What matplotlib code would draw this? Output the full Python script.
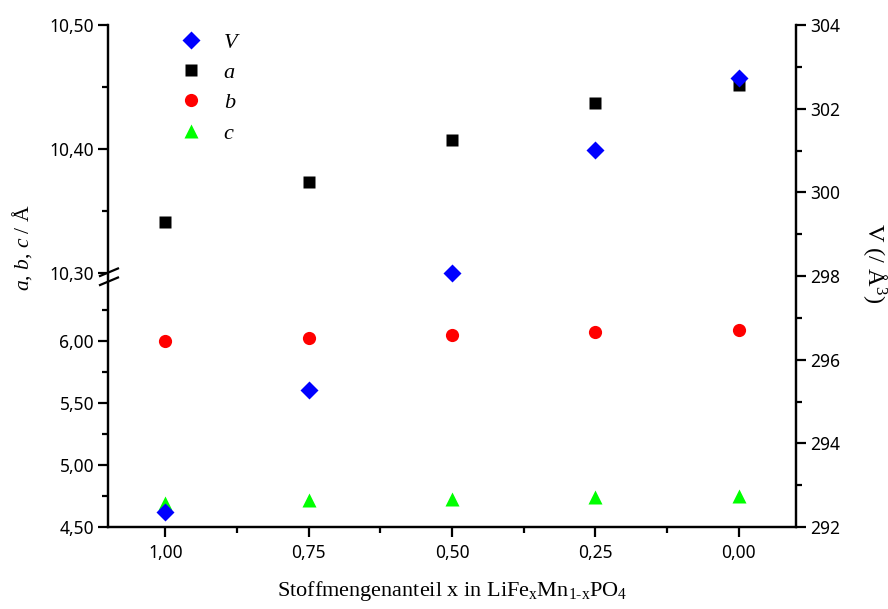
import numpy as np
import matplotlib
matplotlib.use("Agg")
import matplotlib.pyplot as plt
from matplotlib.ticker import FixedLocator, FuncFormatter
from matplotlib.lines import Line2D

plt.rcParams['mathtext.fontset'] = 'custom'
plt.rcParams['mathtext.rm'] = 'Liberation Serif'
plt.rcParams['mathtext.it'] = 'Liberation Serif:italic'

# data
x = [1.00, 0.75, 0.50, 0.25, 0.00]
V = [292.36, 295.27, 298.07, 301.01, 302.73]
a = [10.341, 10.373, 10.407, 10.437, 10.452]
b = [6.002, 6.024, 6.048, 6.073, 6.089]
c = [4.694, 4.718, 4.726, 4.742, 4.750]

left_major = [4.5, 5.0, 5.5, 6.0, 10.3, 10.4, 10.5]
left_minor = [4.75, 5.25, 5.75, 6.25, 10.35, 10.45]


# broken axis: 4.5-6.5 and 10.3-10.5 with a tiny gap in between
def fwd(y):
    y = np.asarray(y, dtype=float)
    return np.where(y <= 6.5, (y - 4.5) * 124,
                    np.where(y >= 10.3, 254 + (y - 10.3) * 1240,
                             248 + (y - 6.5) * 6 / 3.8))


def inv(p):
    p = np.asarray(p, dtype=float)
    return np.where(p <= 248, 4.5 + p / 124,
                    np.where(p >= 254, 10.3 + (p - 254) / 1240,
                             6.5 + (p - 248) * 3.8 / 6))


comma = FuncFormatter(lambda v, pos: f"{v:.2f}".replace('.', ','))

fig = plt.figure(figsize=(8.88, 6.09), dpi=100)
ax = fig.add_axes([108 / 888, 1 - 527 / 609, 688 / 888, 502 / 609])
ax.set_yscale('function', functions=(fwd, inv))

ax2 = ax.twinx()

ax2.plot(x, V, 'D', color='#0000ff', ms=9.5, mec='none', zorder=3)
ax.plot(x, a, 's', color='black', ms=8, mec='none')
ax.plot(x, b, 'o', color='#ff0000', ms=9.5, mec='none')
ax.plot(x, c, '^', color='#00ff00', ms=10.5, mec='none')

for axis in (ax, ax2):
    axis.spines['top'].set_visible(False)
    for s in axis.spines.values():
        s.set_linewidth(1.6)

ax.yaxis.set_major_locator(FixedLocator(left_major))
ax.yaxis.set_minor_locator(FixedLocator(left_minor))
ax.yaxis.set_major_formatter(comma)
ax.yaxis.set_minor_formatter(FuncFormatter(lambda v, pos: ''))
ax.set_xticks(x)
ax.set_xticks([0.875, 0.625, 0.375, 0.125], minor=True)
ax.xaxis.set_major_formatter(comma)
ax2.set_yticks(np.arange(292, 305, 2))
ax2.set_yticks(np.arange(293, 304, 2), minor=True)

ax.set_xlim(1.1, -0.1)
ax.set_ylim(4.5, 10.5)
ax2.set_ylim(292, 304)

for axis in (ax, ax2):
    axis.tick_params(which='major', direction='out', length=7, width=1.6, pad=3)
    axis.tick_params(which='minor', direction='out', length=4, width=1.6)
    for lab in axis.get_xticklabels() + axis.get_yticklabels():
        lab.set_fontfamily('Noto Sans')
        lab.set_fontsize(12.5)
ax.tick_params(axis='x', pad=5)

# break marks on the left spine
for y0 in (0.482, 0.500):
    ax.plot([-0.0116, 0.0145], [y0, y0 + 0.015], color='black', lw=1.6,
            transform=ax.transAxes, clip_on=False)

ax.set_xlabel("Stoffmengenanteil x in LiFe$_\\mathregular{x}$Mn$_\\mathregular{1\u2010x}$PO$_\\mathregular{4}$",
              fontfamily='Liberation Serif', fontsize=16)
ax.xaxis.set_label_coords(0.5, -0.103)
ax.set_ylabel(r"$a$, $b$, $c$ / Å", fontfamily='Liberation Serif', fontsize=15.5)
ax.yaxis.set_label_coords(-0.108, 0.556)
ax2.set_ylabel(r"V (/ Å$^\mathregular{3}$)", fontfamily='Liberation Serif', fontsize=17.5,
               rotation=270)
ax2.yaxis.set_label_coords(1.135, 0.526)

handles = [
    Line2D([], [], ls='none', marker='D', color='#0000ff', ms=9.5, mec='none'),
    Line2D([], [], ls='none', marker='s', color='black', ms=8, mec='none'),
    Line2D([], [], ls='none', marker='o', color='#ff0000', ms=9.5, mec='none'),
    Line2D([], [], ls='none', marker='^', color='#00ff00', ms=10.5, mec='none'),
]
ax2.legend(handles, ['V', 'a', 'b', 'c'], loc='upper left',
           bbox_to_anchor=(0.068, 1.026), frameon=False,
           prop=dict(family='Liberation Serif', style='italic', size=16),
           labelspacing=0.44, handletextpad=0.7, handlelength=1.5)

fig.savefig('out.png', dpi=100)
